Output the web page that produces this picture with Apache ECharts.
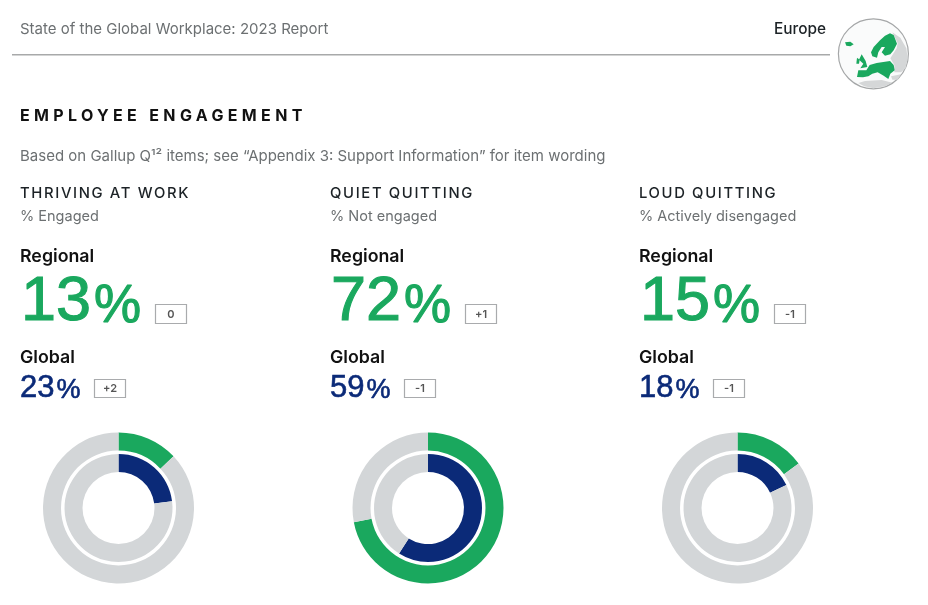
<!DOCTYPE html>
<html><head><meta charset="utf-8">
<style>html,body{margin:0;padding:0;background:#fff}#c{width:928px;height:605px}</style>
<script src="https://cdn.jsdelivr.net/npm/echarts@6/dist/echarts.min.js"></script>
</head><body><div id="c"></div>
<script>
const categories = ['THRIVING AT WORK', 'QUIET QUITTING', 'LOUD QUITTING'];
const measures = ['% Engaged', '% Not engaged', '% Actively disengaged'];
const regional = [13, 72, 15];
const globalValues = [23, 59, 18];
const regionalChange = ['0', '+1', '-1'];
const globalChange = ['+2', '-1', '-1'];
const reportTitle = 'State of the Global Workplace: 2023 Report';
const regionName = 'Europe';
const sectionTitle = 'EMPLOYEE ENGAGEMENT';
const sectionNote = 'Based on Gallup Q¹² items; see “Appendix 3: Support Information” for item wording';

const GREEN = '#1aa85e', NAVY = '#0b2a78', GRAY = '#d3d6d8', TXT = '#111', SOFT = '#6c7072';
const FONT = 'Inter, "Liberation Sans", sans-serif';

/* Letter-spaced headings: canvas letterSpacing applied at draw time */
const spaced = { [sectionTitle]: '4.35px' };
categories.forEach(c => spaced[c] = '1.65px');
const origFill = CanvasRenderingContext2D.prototype.fillText;
CanvasRenderingContext2D.prototype.fillText = function (t, x, y, m) {
  const s = spaced[t];
  if (s) this.letterSpacing = s;
  m === undefined ? origFill.call(this, t, x, y) : origFill.call(this, t, x, y, m);
  if (s) this.letterSpacing = '0px';
};

const colX = [20, 330, 639];
const ringX = [118.5, 428, 737.5];
const ringY = 508;

function txt(x, y, text, size, weight, fill) {
  return {
    type: 'text', x, y, silent: true,
    style: { text, fill, font: `${weight} ${size}px ${FONT}`, verticalAlign: 'middle', align: 'left' }
  };
}
function big(x, y, val, color, nSize, pSize, sw, gap) {
  const base = { fontFamily: 'Liberation Sans', fill: color, stroke: color, lineWidth: sw, verticalAlign: 'bottom', lineHeight: nSize * 1.2 };
  return {
    type: 'text', x, y, silent: true,
    style: {
      text: `{n|${val}}{p|%}`, verticalAlign: 'bottom', align: 'left',
      rich: {
        n: Object.assign({ fontSize: nSize, padding: [0, gap, 0, 0] }, base),
        p: Object.assign({ fontSize: pSize }, base)
      }
    }
  };
}
function box(x, y, w, h, label) {
  return [
    { type: 'rect', silent: true, shape: { x: x + .5, y: y + .5, width: w, height: h }, style: { fill: '#fff', stroke: '#a9abad', lineWidth: 1.2 } },
    { type: 'text', x: x + w / 2 + .5, y: y + h / 2 + 1, silent: true, style: { text: label, fill: '#555', font: `600 11px ${FONT}`, align: 'center', verticalAlign: 'middle' } }
  ];
}

const graphics = [
  txt(20, 29, reportTitle, 15, 400, SOFT),
  txt(774, 29.5, regionName, 15.4, 500, '#1c2226'),
  { type: 'rect', silent: true, shape: { x: 12, y: 54, width: 818, height: 1.6 }, style: { fill: '#a8a9aa' } },
  txt(20, 116.5, sectionTitle, 16, 700, TXT),
  txt(20, 156, sectionNote, 15, 400, SOFT)
];

/* Small locator map, decorative */
const mapGray = [
  [[172,52],[196,68],[214,100],[218,130],[212,160],[198,172],[178,172],[178,150],[166,130],[185,100],[188,85]],
  [[70,204],[90,198],[140,195],[172,203],[150,214],[115,220],[88,214]],
  [[168,184],[198,178],[188,194],[172,194]]
];
const mapGreen = [
  [[165,55],[176,60],[186,86],[176,106],[166,118],[150,122],[140,112],[150,96],[140,96],[130,112],[126,128],[112,124],[108,112],[116,96],[135,76],[150,62]],
  [[80,118],[92,138],[97,156],[76,160],[85,146],[72,134]],
  [[66,128],[74,134],[72,146],[64,146]],
  [[66,186],[70,166],[94,166],[104,150],[125,144],[165,138],[176,150],[179,166],[166,176],[160,192],[146,182],[128,172],[112,176],[100,184],[84,187]],
  [[30,82],[46,80],[56,88],[46,94],[34,92]]
];
graphics.push({ type: 'circle', silent: true, shape: { cx: 873.4, cy: 53.8, r: 35 }, style: { fill: '#fafbfb', stroke: '#a5a7a8', lineWidth: 1.2 } });
graphics.push({
  type: 'group', x: 835, y: 15, scaleX: 1 / 3, scaleY: 1 / 3, silent: true,
  children: mapGray.map(p => ({ type: 'polygon', shape: { points: p }, style: { fill: '#d5d7d8' } }))
    .concat(mapGreen.map(p => ({ type: 'polygon', shape: { points: p }, style: { fill: GREEN } })))
});

categories.forEach((c, i) => {
  const x = colX[i];
  graphics.push(
    txt(x, 194, c, 14.8, 500, '#1c2226'),
    txt(x, 217, measures[i], 14.5, 400, SOFT),
    txt(x, 257, 'Regional', 17.8, 600, TXT),
    big(x + 1, 334, regional[i], GREEN, 63, 53, 1.1, 3),
    ...box(x + 135, 304, 31, 19, regionalChange[i]),
    txt(x, 358, 'Global', 17.8, 600, TXT),
    big(x, 404, globalValues[i], NAVY, 31, 27, 0.6, 2),
    ...box(x + 74, 379, 31, 18, globalChange[i])
  );
});

const series = [];
categories.forEach((c, i) => {
  const mk = (name, v, col, inner, outer) => ({
    type: 'pie', name: c + ' ' + name, silent: true, animation: false,
    center: [ringX[i], ringY], radius: [inner, outer], startAngle: 90, clockwise: true,
    label: { show: false }, labelLine: { show: false },
    data: [{ value: v, itemStyle: { color: col } }, { value: 100 - v, itemStyle: { color: GRAY } }]
  });
  series.push(mk('Regional', regional[i], GREEN, 57.5, 75.5));
  series.push(mk('Global', globalValues[i], NAVY, 36, 54));
});

const chart = echarts.init(document.getElementById('c'), null, { width: 928, height: 605 });
chart.setOption({ backgroundColor: '#fff', animation: false, series, graphic: { elements: graphics } });
</script></body></html>
